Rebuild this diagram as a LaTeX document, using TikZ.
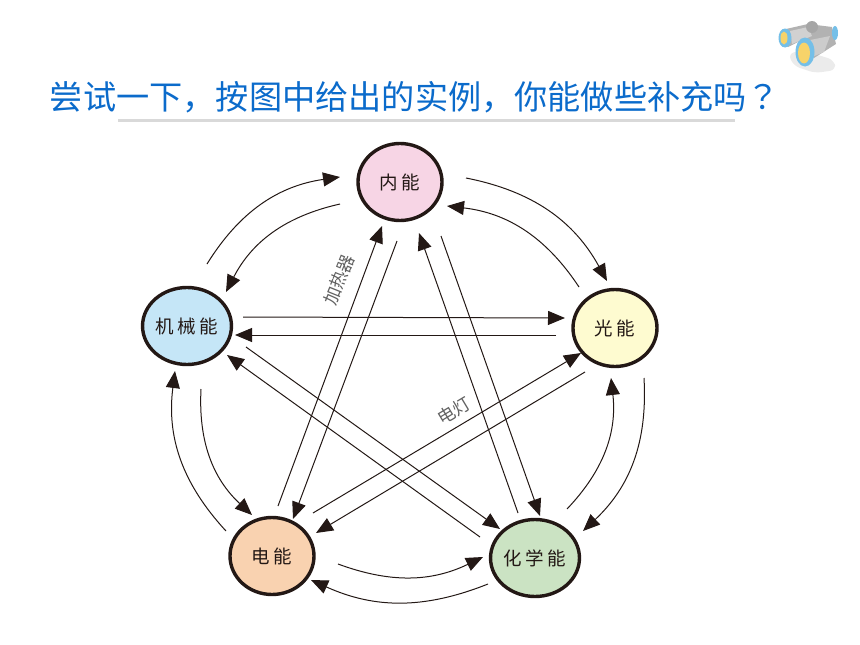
\documentclass[tikz,border=0pt]{standalone}
\usepackage{fontspec}
\usepackage{tikz}
\usetikzlibrary{arrows.meta, shapes.geometric}
\setmainfont{Noto Sans CJK SC}
\newfontfamily\lblfont[LetterSpace=20]{Noto Sans CJK SC}
\newfontfamily\qmfont{Noto Sans CJK JP}
\definecolor{titleblue}{HTML}{0B6BCB}
\definecolor{inkdark}{HTML}{231815}
\definecolor{lensblue}{HTML}{74BFE8}
\definecolor{lensgold}{HTML}{F7D36A}
\tikzset{
  energy/.style={draw=inkdark, ellipse, line width=3.4pt, minimum width=84pt, minimum height=77pt, inner sep=0pt, font=\lblfont\fontsize{18.5}{18.5}\selectfont, text=inkdark},
  arw/.style={-{Triangle[length=17pt, width=14pt]}, line width=1pt, draw=inkdark},
  tag/.style={font=\fontsize{17.5}{17.5}\selectfont, text=black!62, inner sep=0pt},
}
\begin{document}
\begin{tikzpicture}[x=1pt, y=-1pt]
    \useasboundingbox (0,0) rectangle (860,645);

    \node[text=titleblue, font=\fontsize{33.2}{33.2}\selectfont, inner sep=0pt] (T) at (415, 97) {尝试一下，按图中给出的实例，你能做些补充吗{\qmfont ？}};
    \coordinate (RL) at (118,120.5);
    \coordinate (RR) at (735,120.5);
    \draw[line width=2.5pt, black!15] (RL) -- (RR);

    \node[energy, fill={rgb,255:red,247;green,213;blue,229}]   (IE)  at (400, 182) {内能};
    \node[energy, fill={rgb,255:red,197;green,230;blue,247}]   (ME)  at (187, 326) {机械能};
    \node[energy, fill={rgb,255:red,254;green,251;blue,208}]   (LE)  at (615, 328) {光能};
    \node[energy, fill={rgb,255:red,249;green,210;blue,176}]   (EE)  at (272, 556) {电能};
    \node[energy, fill={rgb,255:red,203;green,227;blue,195}]   (CE)  at (535, 558) {化学能};

    \draw[arw] ([shift={(20,-62)}]ME.center)  to[bend left=25]  ([shift={(-60,-5)}]IE.center);
    \draw[arw] ([shift={(-60,22)}]IE.center)  to[bend right=25] ([shift={(39,-34)}]ME.center);
    \draw[arw] ([shift={(66,-4)}]IE.center)   to[bend left=25]  ([shift={(-8,-47)}]LE.center);
    \draw[arw] ([shift={(-36,-41)}]LE.center) to[bend right=25] ([shift={(47,24)}]IE.center);
    \draw[arw] ([shift={(29,50)}]LE.center)   to[bend left=25]  ([shift={(48,-27)}]CE.center);
    \draw[arw] ([shift={(32,-49)}]CE.center)  to[bend right=25] ([shift={(-4,50)}]LE.center);
    \draw[arw] ([shift={(-47,26)}]CE.center)  to[bend left=23]  ([shift={(39,24)}]EE.center);
    \draw[arw] ([shift={(66,8)}]EE.center)    to[bend right=23] ([shift={(-52,-1)}]CE.center);
    \draw[arw] ([shift={(-46,-25)}]EE.center) to[bend left=25]  ([shift={(-12,45)}]ME.center);
    \draw[arw] ([shift={(14,63)}]ME.center)   to[bend right=25] ([shift={(-20,-41)}]EE.center);

    \draw[arw] ([shift={(56,-9)}]ME.center)   -- ([shift={(-50,-10)}]LE.center);
    \draw[arw] ([shift={(-59,7)}]LE.center)   -- ([shift={(48,9)}]ME.center);
    \draw[arw] ([shift={(6,-50)}]EE.center)   -- ([shift={(-18,44)}]IE.center);
    \draw[arw] ([shift={(-3,59)}]IE.center)   -- ([shift={(21,-37)}]EE.center);
    \draw[arw] ([shift={(-17,-45)}]CE.center) -- ([shift={(19,51)}]IE.center);
    \draw[arw] ([shift={(41,54)}]IE.center)   -- ([shift={(5,-42)}]CE.center);
    \draw[arw] ([shift={(41,-43)}]EE.center)  -- ([shift={(-34,25)}]LE.center);
    \draw[arw] ([shift={(-30,44)}]LE.center)  -- ([shift={(44,-23)}]EE.center);
    \draw[arw] ([shift={(59,21)}]ME.center)   -- ([shift={(-35,-29)}]CE.center);
    \draw[arw] ([shift={(-55,-21)}]CE.center) -- ([shift={(40,29)}]ME.center);

    \node[tag, rotate=68] (HT) at (339, 280) {加热器};
    \node[tag, rotate=31] (LP) at (454, 411) {电灯};

    \fill[black!8, rounded corners=6pt] (788,54) -- (802,50) -- (834,60) -- (836,70) -- (815,73) -- (794,66) -- cycle;
    \fill[black!30] (786,29) -- (808,24) -- (832,27) -- (836,44) -- (814,58) -- (806,38) -- (788,47) -- cycle;
    \fill[black!18] (790,31) -- (808,27) -- (812,36) -- (792,44) -- cycle;
    \fill[black!20] (810,40) -- (830,36) -- (824,52) -- (812,57) -- cycle;
    \fill[black!35] (812,27) circle[radius=6pt];
    \fill[lensblue] (835,33) ellipse[x radius=3pt, y radius=7pt];
    \fill[lensblue] (785,38) ellipse[x radius=6.5pt, y radius=9.5pt];
    \fill[lensgold] (784,38) ellipse[x radius=3.5pt, y radius=6.5pt];
    \fill[lensblue] (805,52) ellipse[x radius=9.5pt, y radius=14.5pt];
    \fill[lensgold] (804,53) ellipse[x radius=6pt, y radius=10.5pt];
  \end{tikzpicture}
\end{document}
